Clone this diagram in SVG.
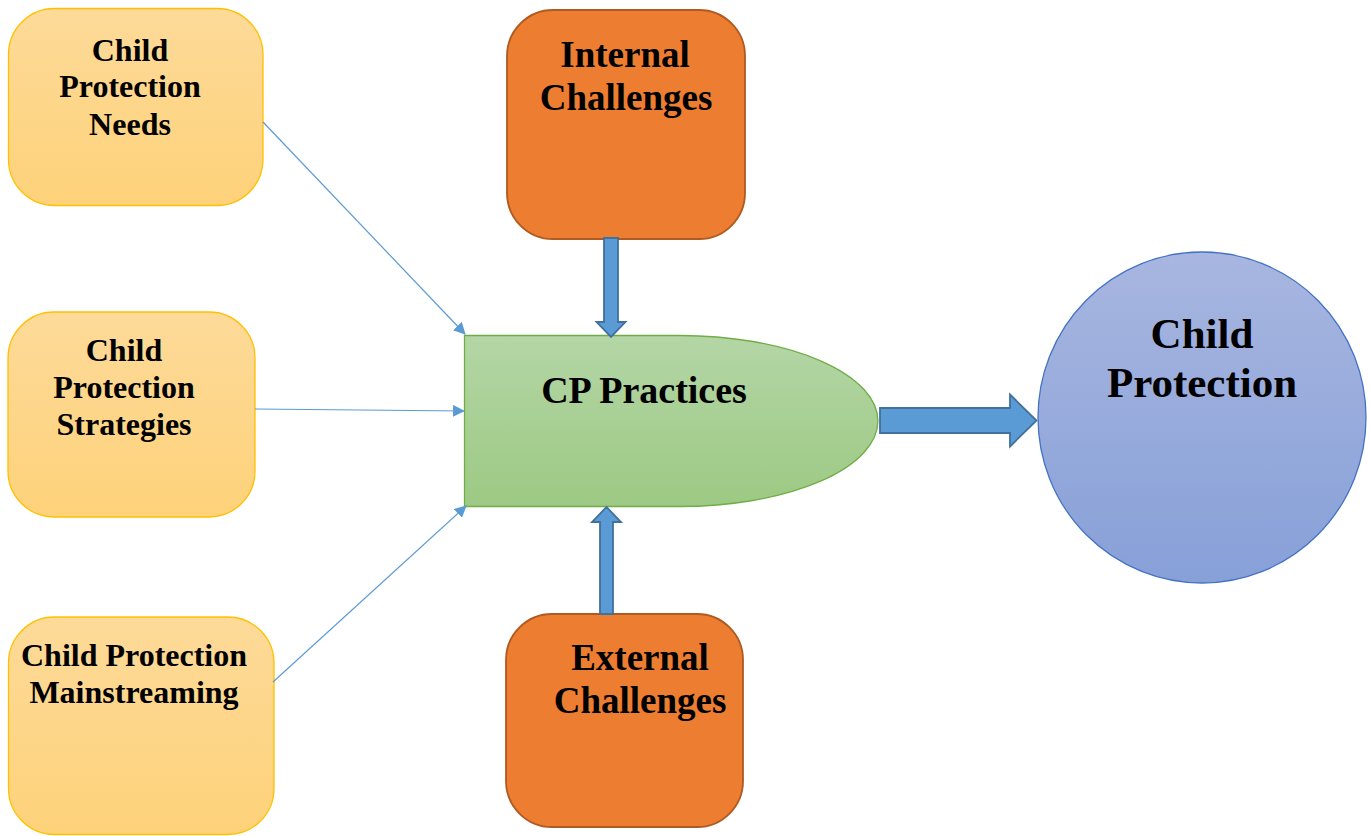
<svg xmlns="http://www.w3.org/2000/svg" width="1369" height="836" viewBox="0 0 1369 836">
  <defs>
    <linearGradient id="gYellow" x1="0" y1="0" x2="0" y2="1">
      <stop offset="0" stop-color="#FDDA99"/>
      <stop offset="1" stop-color="#FED27A"/>
    </linearGradient>
    <linearGradient id="gGreen" x1="0" y1="0" x2="0" y2="1">
      <stop offset="0" stop-color="#B4D6A6"/>
      <stop offset="1" stop-color="#9CC983"/>
    </linearGradient>
    <linearGradient id="gBlue" x1="0" y1="0" x2="0" y2="1">
      <stop offset="0" stop-color="#A8B6E0"/>
      <stop offset="1" stop-color="#87A0D8"/>
    </linearGradient>
    <marker id="tri" viewBox="0 0 12 12" refX="11" refY="6" markerWidth="12" markerHeight="12" markerUnits="userSpaceOnUse" orient="auto">
      <path d="M0,0 L12,6 L0,12 Z" fill="#5B9BD5"/>
    </marker>
    <style>
      .yel { fill: url(#gYellow); stroke: #FFC000; stroke-width: 1.3; }
      .org { fill: #ED7D31; stroke: #AE5A21; stroke-width: 1.8; }
      .lbl { font-family: "Liberation Serif", "Times New Roman", serif; font-weight: bold; fill: #000; text-anchor: middle; }
      .thin { stroke: #5B9BD5; stroke-width: 1.2; fill: none; marker-end: url(#tri); }
      .block { fill: #5B9BD5; stroke: #41719C; stroke-width: 1.8; stroke-linejoin: miter; }
    </style>
  </defs>

  <rect width="1369" height="836" fill="#FFFFFF"/>

  <!-- input boxes -->
  <g id="needs">
    <rect class="yel" x="8.5" y="8.5" width="254.5" height="197" rx="46" ry="46"/>
    <text class="lbl" font-size="32" x="130" y="61">Child</text>
    <text class="lbl" font-size="32" x="130" y="97">Protection</text>
    <text class="lbl" font-size="32" x="130" y="135">Needs</text>
  </g>

  <g id="strategies">
    <rect class="yel" x="8" y="312" width="247" height="205" rx="46" ry="46"/>
    <text class="lbl" font-size="32" x="124" y="361">Child</text>
    <text class="lbl" font-size="32" x="124" y="398">Protection</text>
    <text class="lbl" font-size="32" x="124" y="435">Strategies</text>
  </g>

  <g id="mainstreaming">
    <rect class="yel" x="8.5" y="617" width="265.5" height="217.5" rx="46" ry="46"/>
    <text class="lbl" font-size="32" x="134" y="666">Child Protection</text>
    <text class="lbl" font-size="32" x="134" y="703">Mainstreaming</text>
  </g>

  <!-- challenge boxes -->
  <g id="internal">
    <rect class="org" x="507" y="10" width="238" height="229" rx="46" ry="46"/>
    <text class="lbl" font-size="37" x="625" y="67">Internal</text>
    <text class="lbl" font-size="37" x="626" y="110">Challenges</text>
  </g>

  <g id="external">
    <rect class="org" x="506" y="614" width="237" height="213" rx="46" ry="46"/>
    <text class="lbl" font-size="37" x="640" y="670">External</text>
    <text class="lbl" font-size="37" x="640" y="713">Challenges</text>
  </g>

  <!-- central process -->
  <g id="practices">
    <path d="M464.5,335.5 L680,335.5 A198,85.5 0 0 1 680,506.5 L464.5,506.5 Z" fill="url(#gGreen)" stroke="#70AD47" stroke-width="1.3"/>
    <text class="lbl" font-size="38" x="644" y="403">CP Practices</text>
  </g>

  <!-- outcome -->
  <g id="outcome">
    <ellipse cx="1202" cy="417.5" rx="164" ry="165.5" fill="url(#gBlue)" stroke="#4472C4" stroke-width="1.3"/>
    <text class="lbl" font-size="43" x="1202" y="348">Child</text>
    <text class="lbl" font-size="43" x="1202" y="397">Protection</text>
  </g>

  <!-- connectors -->
  <g id="connectors">
    <line class="thin" x1="263" y1="122" x2="465" y2="334"/>
    <line class="thin" x1="255" y1="409" x2="464" y2="411"/>
    <line class="thin" x1="273" y1="682" x2="466" y2="506"/>
    <!-- block arrow down from internal challenges -->
    <path class="block" d="M604,238 L618,238 L618,322 L625.5,322 L611,337 L596.5,322 L604,322 Z"/>
    <!-- block arrow up from external challenges -->
    <path class="block" d="M600,614 L613,614 L613,522 L621,522 L606.5,507 L592,522 L600,522 Z"/>
    <!-- block arrow right to outcome -->
    <path class="block" d="M880,408 L1010,408 L1010,394.5 L1036.5,420.5 L1010,446.5 L1010,433 L880,433 Z"/>
  </g>
</svg>
